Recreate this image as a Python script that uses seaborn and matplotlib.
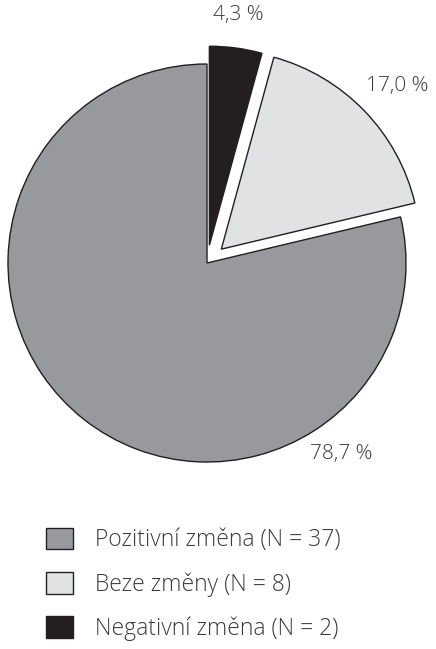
import numpy as np
import matplotlib
matplotlib.use("Agg")
import matplotlib.pyplot as plt
import seaborn as sns

sns.set_theme(style="white")
plt.rcParams["font.family"] = ["Open Sans", "DejaVu Sans"]

# slices in drawing order (clockwise from 12 o'clock)
categories = ["Negativní změna", "Beze změny", "Pozitivní změna"]
counts = [2, 8, 37]
pct_labels = ["4,3 %", "17,0 %", "78,7 %"]
legend_order = [2, 1, 0]

COLORS = ["#231f20", "#e1e2e4", "#98999d"]
EDGE = "#231f20"
TEXT = "#3c3c3c"

fig = plt.figure(figsize=(4.36, 6.49), dpi=100)
ax = fig.add_axes([8 / 436, 1 - 462 / 649, 398 / 436, 398 / 649])

wedges, _ = ax.pie(counts, colors=COLORS, startangle=90, counterclock=False,
                   explode=[0.09, 0.1, 0.0], radius=1.0,
                   wedgeprops={"edgecolor": EDGE, "linewidth": 1.0},
                   frame=False)
for w in wedges:
    w.set_clip_on(False)
ax.set_xlim(-1, 1)
ax.set_ylim(-1, 1)
ax.set_aspect("equal")
ax.axis("off")

# percentage labels
label_pos = [(0.156, 1.245), (0.955, 0.89), (0.673, -0.962)]
for (lx, ly), txt in zip(label_pos, pct_labels):
    ax.text(lx, ly, txt, ha="center", va="center", fontsize=15,
            color=TEXT, fontweight="light")

handles = [wedges[i] for i in legend_order]
labels = [f"{categories[i]} (N = {counts[i]})" for i in legend_order]
leg = fig.legend(handles, labels, loc="upper left",
                 bbox_to_anchor=(25 / 436, 1 - 507 / 649),
                 frameon=False, fontsize=16.5, labelspacing=0.85,
                 handlelength=1.18, handleheight=1.09, handletextpad=0.97)
for t in leg.get_texts():
    t.set_color(TEXT)
    t.set_fontweight("light")

fig.savefig("out.png", dpi=100, facecolor="white")
